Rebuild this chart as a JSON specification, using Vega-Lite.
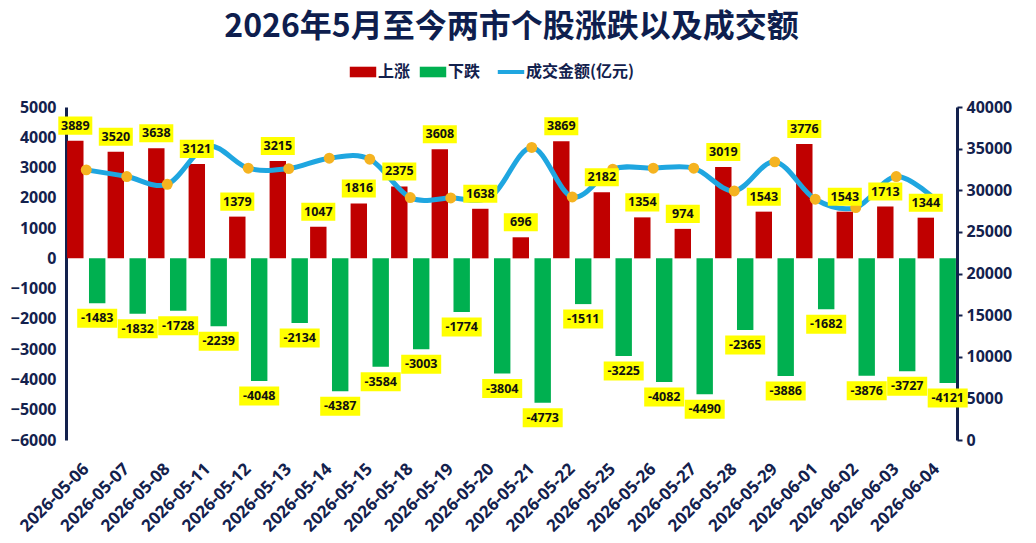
{
  "$schema": "https://vega.github.io/schema/vega-lite/v6.json",
  "description": "2026年5月至今两市个股涨跌以及成交额",
  "autosize": {"type": "none"},
  "width": 891,
  "height": 333,
  "padding": {"left": 66, "top": 107, "right": 79, "bottom": 103},
  "background": "white",
  "title": {
    "text": "2026年5月至今两市个股涨跌以及成交额",
    "font": "Noto Sans CJK SC",
    "fontSize": 32,
    "fontWeight": "bold",
    "color": "#0E1E4E",
    "anchor": "middle",
    "offset": 20
  },
  "config": {
    "view": {"stroke": null},
    "axis": {
      "grid": false,
      "labelFont": "Noto Sans",
      "labelFontWeight": "bold",
      "labelColor": "#13214D",
      "domainColor": "#13214D",
      "tickColor": "#13214D"
    }
  },
  "data": {
    "values": [
      {"date": "2026-05-06", "up": 3889, "down": -1483, "amount": 32450},
      {"date": "2026-05-07", "up": 3520, "down": -1832, "amount": 31650},
      {"date": "2026-05-08", "up": 3638, "down": -1728, "amount": 30720},
      {"date": "2026-05-11", "up": 3121, "down": -2239, "amount": 35300},
      {"date": "2026-05-12", "up": 1379, "down": -4048, "amount": 32650},
      {"date": "2026-05-13", "up": 3215, "down": -2134, "amount": 32600},
      {"date": "2026-05-14", "up": 1047, "down": -4387, "amount": 33850},
      {"date": "2026-05-15", "up": 1816, "down": -3584, "amount": 33730},
      {"date": "2026-05-18", "up": 2375, "down": -3003, "amount": 29120},
      {"date": "2026-05-19", "up": 3608, "down": -1774, "amount": 29070},
      {"date": "2026-05-20", "up": 1638, "down": -3804, "amount": 29300},
      {"date": "2026-05-21", "up": 696, "down": -4773, "amount": 35140},
      {"date": "2026-05-22", "up": 3869, "down": -1511, "amount": 29190},
      {"date": "2026-05-25", "up": 2182, "down": -3225, "amount": 32530},
      {"date": "2026-05-26", "up": 1354, "down": -4082, "amount": 32650},
      {"date": "2026-05-27", "up": 974, "down": -4490, "amount": 32650},
      {"date": "2026-05-28", "up": 3019, "down": -2365, "amount": 29920},
      {"date": "2026-05-29", "up": 1543, "down": -3886, "amount": 33410},
      {"date": "2026-06-01", "up": 3776, "down": -1682, "amount": 28920},
      {"date": "2026-06-02", "up": 1543, "down": -3876, "amount": 27920},
      {"date": "2026-06-03", "up": 1713, "down": -3727, "amount": 31650},
      {"date": "2026-06-04", "up": 1344, "down": -4121, "amount": 28710}
    ]
  },
  "encoding": {
    "x": {
      "field": "date",
      "type": "nominal",
      "sort": null,
      "title": null,
      "scale": {"paddingInner": 0, "paddingOuter": 0},
      "axis": {
        "labelAngle": -45,
        "labelAlign": "right",
        "labelBaseline": "middle",
        "labelFontSize": 17,
        "labelPadding": 26,
        "labelOverlap": false,
        "domain": false,
        "ticks": false
      }
    }
  },
  "layer": [
    {
      "encoding": {
        "y": {
          "type": "quantitative",
          "scale": {"domain": [-6000, 5000], "nice": false},
          "axis": {
            "orient": "left",
            "title": null,
            "values": [-6000, -5000, -4000, -3000, -2000, -1000, 0, 1000, 2000, 3000, 4000, 5000],
            "format": "d",
            "labelFontSize": 16,
            "labelPadding": 10,
            "ticks": false,
            "domainWidth": 3
          }
        }
      },
      "layer": [
        {
          "mark": {"type": "bar"},
          "encoding": {
            "xOffset": {"datum": "上涨", "scale": {"domain": ["上涨", "下跌"], "paddingInner": 0.25, "paddingOuter": 0.05}},
            "y": {"field": "up"},
            "color": {
              "datum": "上涨",
              "scale": {
                "domain": ["上涨", "下跌", "成交金额(亿元)"],
                "range": ["#C00000", "#00B050", "#1FA6E0"]
              },
              "legend": {
                "orient": "none",
                "legendX": 289,
                "legendY": -43,
                "direction": "horizontal",
                "title": null,
                "labelFont": "Noto Sans CJK SC",
                "labelFontSize": 16,
                "labelFontWeight": "bold",
                "labelColor": "#13214D",
                "labelOffset": 7,
                "columnPadding": 8,
                "symbolSize": 700,
                "symbolType": "M-1,-0.4L1,-0.4L1,0.4L-1,0.4Z",
                "encode": {
                  "symbols": {
                    "update": {
                      "shape": {"signal": "datum.value === '成交金额(亿元)' ? 'stroke' : 'M-1,-0.4L1,-0.4L1,0.4L-1,0.4Z'"},
                      "fill": {"scale": "color", "field": "value"},
                      "stroke": {"scale": "color", "field": "value"},
                      "strokeWidth": {"signal": "datum.value === '成交金额(亿元)' ? 4 : 0"},
                      "opacity": {"value": 1}
                    }
                  }
                }
              }
            }
          }
        },
        {
          "mark": {"type": "bar"},
          "encoding": {
            "xOffset": {"datum": "下跌"},
            "y": {"field": "down"},
            "color": {"datum": "下跌"}
          }
        }
      ]
    },
    {
      "encoding": {
        "y": {
          "field": "amount",
          "type": "quantitative",
          "scale": {"domain": [0, 40000], "nice": false},
          "axis": {
            "orient": "right",
            "title": null,
            "values": [0, 5000, 10000, 15000, 20000, 25000, 30000, 35000, 40000],
            "format": "d",
            "labelFontSize": 16,
            "labelPadding": 4,
            "tickSize": 5,
            "tickWidth": 2,
            "domainWidth": 3
          }
        }
      },
      "layer": [
        {
          "mark": {"type": "line", "interpolate": "cardinal", "tension": 0, "strokeWidth": 5},
          "encoding": {"color": {"datum": "成交金额(亿元)"}}
        },
        {
          "mark": {"type": "circle", "color": "#F5B320", "size": 120, "opacity": 1},
          "encoding": {}
        }
      ]
    },
    {
      "encoding": {
        "y": {
          "type": "quantitative",
          "scale": {"domain": [-6000, 5000], "nice": false},
          "axis": null
        }
      },
      "layer": [
        {
          "mark": {"type": "point", "shape": "M-1,-0.53L1,-0.53L1,0.53L-1,0.53Z", "size": 1156, "filled": true, "color": "#FFFF00", "opacity": 1, "yOffset": -15},
          "encoding": {"xOffset": {"datum": "上涨"}, "y": {"field": "up"}}
        },
        {
          "mark": {"type": "text", "font": "Noto Sans", "fontWeight": "bold", "fontSize": 12.5, "color": "#111111", "baseline": "middle", "yOffset": -15},
          "encoding": {"xOffset": {"datum": "上涨"}, "y": {"field": "up"}, "text": {"field": "up", "type": "nominal"}}
        },
        {
          "mark": {"type": "point", "shape": "M-1,-0.475L1,-0.475L1,0.475L-1,0.475Z", "size": 1600, "filled": true, "color": "#FFFF00", "opacity": 1, "yOffset": 15},
          "encoding": {"xOffset": {"datum": "下跌"}, "y": {"field": "down"}}
        },
        {
          "mark": {"type": "text", "font": "Noto Sans", "fontWeight": "bold", "fontSize": 12.5, "color": "#111111", "baseline": "middle", "yOffset": 15},
          "encoding": {"xOffset": {"datum": "下跌"}, "y": {"field": "down"}, "text": {"field": "down", "type": "nominal"}}
        }
      ]
    }
  ],
  "resolve": {"scale": {"y": "independent"}}
}
